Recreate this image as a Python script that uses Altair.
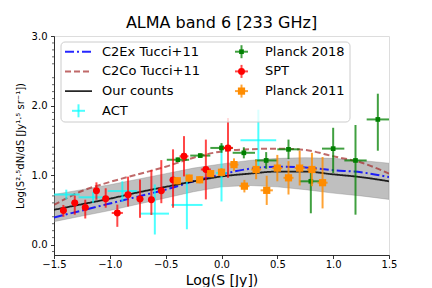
import altair as alt
import pandas as pd

# ---------------- data ----------------
grid_x = [-1.5, -1.25, -1.0, -0.75, -0.5, -0.25, 0.0, 0.25, 0.5, 0.75, 1.0, 1.25, 1.5]
c2ex = [0.39, 0.49, 0.59, 0.69, 0.79, 0.91, 1.01, 1.09, 1.12, 1.11, 1.07, 1.04, 0.97]
c2co = [0.57, 0.77, 0.90, 1.01, 1.12, 1.25, 1.34, 1.37, 1.38, 1.36, 1.27, 1.18, 1.02]
ours = [0.50, 0.58, 0.66, 0.75, 0.83, 0.91, 0.98, 1.02, 1.05, 1.05, 1.01, 0.97, 0.91]
ours_hi = [0.72, 0.79, 0.86, 0.94, 1.02, 1.10, 1.16, 1.21, 1.24, 1.25, 1.24, 1.21, 1.17]
ours_lo = [0.33, 0.41, 0.49, 0.58, 0.67, 0.76, 0.83, 0.85, 0.83, 0.79, 0.74, 0.70, 0.65]

act_x = [-1.39, -1.15, -0.888, -0.597, -0.31, 0.00, 0.33]
act_y = [0.72, 0.68, 0.77, 0.445, 0.57, 1.03, 1.50]
act_xerr = [0.12, 0.13, 0.13, 0.127, 0.14, 0.05, 0.16]
act_ylo = [0.07, 0.08, 0.15, 0.30, 0.35, 0.41, 0.44]
act_yhi = [0.07, 0.08, 0.14, 0.42, 0.45, 0.41, 0.44]

p18_x = [-0.39, -0.19, 0.00, 0.20, 0.40, 0.60, 0.80, 1.00, 1.20, 1.40]
p18_y = [1.22, 1.28, 1.39, 1.32, 1.21, 1.37, 0.91, 1.38, 1.21, 1.80]
p18_xerr = [0.10, 0.09, 0.10, 0.10, 0.10, 0.10, 0.10, 0.10, 0.10, 0.10]
p18_ylo = [0.03, 0.03, 0.07, 0.08, 0.12, 0.14, 0.46, 0.35, 0.78, 0.45]
p18_yhi = [0.03, 0.03, 0.07, 0.08, 0.12, 0.14, 0.21, 0.30, 0.51, 0.37]

spt_x = [-1.416, -1.314, -1.22, -1.12, -1.037, -0.933, -0.837, -0.73, -0.628, -0.539, -0.434, -0.336, -0.14, 0.058]
spt_y = [0.49, 0.60, 0.535, 0.775, 0.66, 0.455, 0.717, 0.655, 0.645, 0.775, 0.93, 1.27, 1.08, 1.39]
spt_xerr = [0.03, 0.03, 0.03, 0.03, 0.03, 0.05, 0.03, 0.03, 0.03, 0.03, 0.03, 0.04, 0.045, 0.045]
spt_ylo = [0.09, 0.17, 0.16, 0.13, 0.13, 0.20, 0.17, 0.27, 0.22, 0.18, 0.40, 0.29, 0.43, 0.43]
spt_yhi = [0.08, 0.105, 0.11, 0.12, 0.15, 0.12, 0.26, 0.28, 0.43, 0.44, 0.44, 0.29, 0.43, 0.43]

p11_x = [-0.396, -0.29, -0.195, -0.097, 0.00, 0.112, 0.205, 0.31, 0.405, 0.50, 0.60, 0.70, 0.81, 0.905]
p11_y = [0.918, 0.956, 0.932, 1.02, 1.04, 1.15, 0.84, 1.08, 0.78, 1.10, 0.96, 1.10, 1.08, 0.89]
p11_xerr = [0.03, 0.03, 0.03, 0.03, 0.03, 0.04, 0.045, 0.045, 0.055, 0.045, 0.045, 0.045, 0.045, 0.045]
p11_ylo = [0.05, 0.05, 0.05, 0.05, 0.06, 0.09, 0.09, 0.14, 0.21, 0.19, 0.24, 0.25, 0.24, 0.37]
p11_yhi = [0.05, 0.05, 0.05, 0.05, 0.06, 0.09, 0.09, 0.14, 0.21, 0.19, 0.24, 0.25, 0.24, 0.37]

x_ticks = [-1.5, -1.0, -0.5, 0.0, 0.5, 1.0, 1.5]
y_ticks = [0.0, 0.5, 1.0, 1.5, 2.0, 2.5, 3.0]
y_minor = [-0.1, 0.1, 0.2, 0.3, 0.4, 0.6, 0.7, 0.8, 0.9, 1.1, 1.2, 1.3, 1.4, 1.6, 1.7, 1.8, 1.9,
           2.1, 2.2, 2.3, 2.4, 2.6, 2.7, 2.8, 2.9]

series_names = ["C2Ex Tucci+11", "C2Co Tucci+11", "Our counts", "ACT",
                "Planck 2018", "SPT", "Planck 2011"]
series_colors = ["blue", "brown", "black", "cyan", "green", "red", "darkorange"]

FONT = "DejaVu Sans"
W, H = 335, 219

# ---------------- tables ----------------
lines_df = pd.concat([
    pd.DataFrame({"x": grid_x, "y": c2ex, "series": "C2Ex Tucci+11"}),
    pd.DataFrame({"x": grid_x, "y": c2co, "series": "C2Co Tucci+11"}),
    pd.DataFrame({"x": grid_x, "y": ours, "series": "Our counts"}),
])
band_df = pd.DataFrame({"x": grid_x, "lo": ours_lo, "hi": ours_hi})


def obs(name, xs_, ys_, xe, ylo, yhi):
    d = pd.DataFrame({"x": xs_, "y": ys_, "xe": xe, "ylo": ylo, "yhi": yhi})
    d["series"] = name
    d["x1"] = d["x"] - d["xe"]
    d["x2"] = d["x"] + d["xe"]
    d["y1"] = d["y"] - d["ylo"]
    d["y2"] = d["y"] + d["yhi"]
    return d


obs_df = pd.concat([
    obs("ACT", act_x, act_y, act_xerr, act_ylo, act_yhi),
    obs("Planck 2018", p18_x, p18_y, p18_xerr, p18_ylo, p18_yhi),
    obs("SPT", spt_x, spt_y, spt_xerr, spt_ylo, spt_yhi),
    obs("Planck 2011", p11_x, p11_y, p11_xerr, p11_ylo, p11_yhi),
])
minor_df = pd.DataFrame({"v": y_minor})

# legend layout (pixels inside the plot area), column-major like matplotlib ncol=2
LEG_LEFT, LEG_TOP, LEG_RIGHT, LEG_BOTTOM = 7, 6, 296, 86
ROW0, ROW_STEP = 15.7, 19.7
COL_HANDLE = [11, 174]
HANDLE_W, TEXT_GAP = 27, 10
leg_rows = []
for i, name in enumerate(series_names):
    c, r = (0, i) if i < 4 else (1, i - 4)
    hx = COL_HANDLE[c]
    leg_rows.append({"series": name, "hx1": hx, "hx2": hx + HANDLE_W,
                     "hc": hx + HANDLE_W / 2, "ly": ROW0 + r * ROW_STEP,
                     "tx": hx + HANDLE_W + TEXT_GAP})
leg_df = pd.DataFrame(leg_rows)
leg_df["pl"] = leg_df["hc"] - 6.5
leg_df["pr"] = leg_df["hc"] + 6.5
leg_df["pt"] = leg_df["ly"] - 6.5
leg_df["pb"] = leg_df["ly"] + 6.5
box_df = pd.DataFrame({"x": [LEG_LEFT], "x2": [LEG_RIGHT], "y": [LEG_TOP], "y2": [LEG_BOTTOM]})

# ---------------- scales ----------------
xs = alt.Scale(domain=[-1.5, 1.5], nice=False, zero=False)
ys = alt.Scale(domain=[-0.15, 3.0], nice=False, zero=False)
cs = alt.Scale(domain=series_names, range=series_colors)
col = alt.Color("series:N", scale=cs, legend=None)

X = alt.X("x:Q", scale=xs,
          axis=alt.Axis(values=x_ticks, format=".1f", title="Log(S [Jy])",
                        titleFontSize=14, titleFont=FONT, titleFontWeight="normal",
                        titleColor="black", titlePadding=4,
                        labelFont=FONT, labelFontSize=10, labelColor="black",
                        labelPadding=0.5, tickSize=3.5, tickWidth=0.8, tickColor="black",
                        domainColor="black", domainWidth=0.8, grid=False, labelFlush=False))
Y = alt.Y("y:Q", scale=ys,
          axis=alt.Axis(values=y_ticks, format=".1f",
                        title="Log(S²·⁵dN/dS [Jy¹·⁵ sr⁻¹])",
                        titleFontSize=10, titleFont=FONT, titleFontWeight="normal",
                        titleColor="black", titlePadding=6,
                        labelFont=FONT, labelFontSize=10, labelColor="black",
                        labelPadding=3.5, tickSize=3.5, tickWidth=0.8, tickColor="black",
                        domainColor="black", domainWidth=0.8, grid=False, labelFlush=False))

band = alt.Chart(band_df).mark_area(
    color="gray", fillOpacity=0.5, stroke="gray", strokeOpacity=0.35, strokeWidth=1, clip=True
).encode(x=X, y=alt.Y("lo:Q", scale=ys), y2="hi:Q")

DASH = {"C2Ex Tucci+11": [9, 3, 2, 3], "C2Co Tucci+11": [6, 3], "Our counts": [1, 0]}
LW = {"C2Ex Tucci+11": 2, "C2Co Tucci+11": 2, "Our counts": 1.8}
LOP = {"C2Ex Tucci+11": 0.85, "C2Co Tucci+11": 0.7, "Our counts": 0.85}


def model(name):
    return alt.Chart(lines_df).transform_filter(
        alt.datum.series == name
    ).mark_line(strokeDash=DASH[name], strokeWidth=LW[name], opacity=LOP[name],
                interpolate="monotone", clip=True).encode(x=X, y=Y, color=col)


lines = [model(n) for n in ["C2Ex Tucci+11", "C2Co Tucci+11", "Our counts"]]

marker = {"ACT": None, "Planck 2018": ("square", 22), "SPT": ("circle", 48),
          "Planck 2011": ("square", 52)}
alpha = {"ACT": 0.7, "Planck 2018": 0.75, "SPT": 0.72, "Planck 2011": 0.8}
obs_layers = []
for name in ["ACT", "Planck 2018", "SPT", "Planck 2011"]:
    base = alt.Chart(obs_df).transform_filter(alt.datum.series == name)
    obs_layers.append(base.mark_rule(strokeWidth=2, opacity=alpha[name], clip=True).encode(
        x=alt.X("x1:Q", scale=xs), x2="x2:Q", y=Y, color=col))
    obs_layers.append(base.mark_rule(strokeWidth=2, opacity=alpha[name], clip=True).encode(
        x=X, y=alt.Y("y1:Q", scale=ys), y2="y2:Q", color=col))
    if marker[name]:
        shp, sz = marker[name]
        obs_layers.append(base.mark_point(filled=True, shape=shp, size=sz, opacity=1,
                                          clip=True).encode(x=X, y=Y, color=col))

minor = alt.Chart(minor_df).mark_rule(color="black", strokeWidth=0.6).encode(
    y=alt.Y("v:Q", scale=ys), x=alt.value(-2), x2=alt.value(0))

# ---------------- legend (drawn) ----------------
PX = lambda f: alt.X(f, scale=None, axis=None)
PY = lambda f: alt.Y(f, scale=None, axis=None)

leg_box = alt.Chart(box_df).mark_rect(
    fill="white", fillOpacity=0.8, stroke="#cccccc", strokeWidth=1, cornerRadius=4
).encode(x=PX("x:Q"), x2="x2:Q", y=PY("y:Q"), y2="y2:Q")

leg_layers = [leg_box]
for name in ["C2Ex Tucci+11", "C2Co Tucci+11", "Our counts"]:
    leg_layers.append(alt.Chart(leg_df).transform_filter(alt.datum.series == name).mark_rule(
        strokeDash=DASH[name], strokeWidth=LW[name], opacity=LOP[name]
    ).encode(x=PX("hx1:Q"), x2="hx2:Q", y=PY("ly:Q"), color=col))
for name in ["ACT", "Planck 2018", "SPT", "Planck 2011"]:
    b = alt.Chart(leg_df).transform_filter(alt.datum.series == name)
    leg_layers.append(b.mark_rule(strokeWidth=2, opacity=alpha[name]).encode(
        x=PX("pl:Q"), x2="pr:Q", y=PY("ly:Q"), color=col))
    leg_layers.append(b.mark_rule(strokeWidth=2, opacity=alpha[name]).encode(
        x=PX("hc:Q"), y=PY("pt:Q"), y2="pb:Q", color=col))
    if marker[name]:
        shp, sz = marker[name]
        leg_layers.append(b.mark_point(filled=True, shape=shp, size=sz, opacity=1).encode(
            x=PX("hc:Q"), y=PY("ly:Q"), color=col))
leg_layers.append(alt.Chart(leg_df).mark_text(
    align="left", baseline="middle", font=FONT, fontSize=13, color="black"
).encode(x=PX("tx:Q"), y=PY("ly:Q"), text="series:N"))

chart = alt.layer(band, *lines, *obs_layers, minor, *leg_layers).properties(
    width=W, height=H,
    title=alt.TitleParams("ALMA band 6 [233 GHz]", fontSize=16, font=FONT,
                          fontWeight="normal", color="black", anchor="middle", offset=0),
    padding={"left": 7, "top": 7, "right": 5, "bottom": 0},
).configure_view(stroke="black", strokeWidth=0.8).configure(background="white")

chart.save("out.html", embed_options={"renderer": "svg", "actions": False})
